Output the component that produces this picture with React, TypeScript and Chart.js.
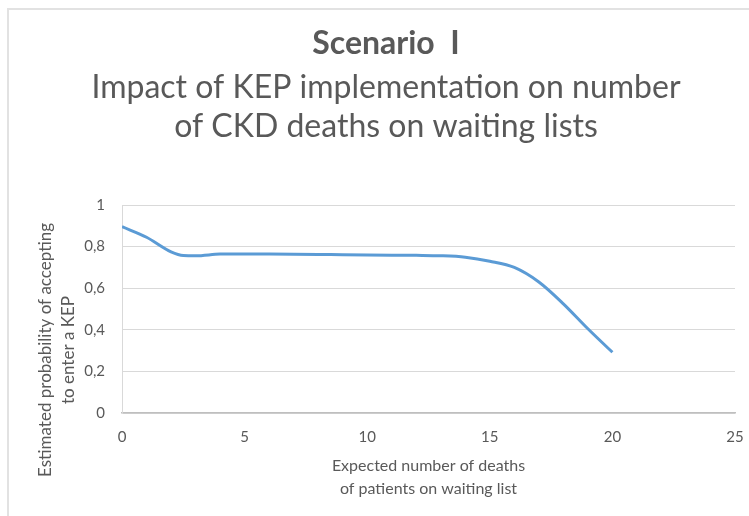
import React, { useEffect, useRef } from "react";
import { Chart, registerables } from "chart.js";

Chart.register(...registerables);

const xValues = [0, 1, 2, 2.5, 3, 4, 5, 6, 7, 8, 9, 10, 11, 12, 13, 14, 15, 16, 17, 18, 19, 20];
const yValues = [0.896, 0.845, 0.775, 0.757, 0.756, 0.764, 0.765, 0.764, 0.763, 0.762, 0.761, 0.76, 0.759, 0.758, 0.756, 0.749, 0.73, 0.7, 0.63, 0.525, 0.405, 0.292];
const titleText = "Scenario  I";
const subtitleLines = ["Impact of KEP implementation on number", "of CKD deaths on waiting lists"];
const yTitleLines = ["Estimated probability of accepting", "to enter a KEP"];
const xTitleLines = ["Expected number of deaths", "of patients on waiting list"];

const FONT = "Lato, 'Open Sans', sans-serif";
const GREY = "#595959";

const yTitlePlugin = {
  id: "yTitlePlugin",
  afterDraw(chart: any) {
    const ctx = chart.ctx;
    ctx.save();
    ctx.fillStyle = GREY;
    ctx.font = `17px ${FONT}`;
    ctx.textAlign = "center";
    ctx.textBaseline = "middle";
    const cy = 350;
    yTitleLines.forEach((t, i) => {
      ctx.save();
      ctx.translate(46 + i * 23, cy);
      ctx.rotate(-Math.PI / 2);
      ctx.fillText(t, 0, 0);
      ctx.restore();
    });
    ctx.restore();
  },
};

export default function App() {
  const ref = useRef<HTMLCanvasElement | null>(null);
  useEffect(() => {
    if (!ref.current) return;
    const chart = new Chart(ref.current, {
      type: "line",
      data: {
        datasets: [
          {
            data: xValues.map((x, i) => ({ x, y: yValues[i] })),
            borderColor: "#5B9BD5",
            borderWidth: 3,
            pointRadius: 0,
            cubicInterpolationMode: "monotone",
            fill: false,
          },
        ],
      },
      options: {
        animation: false,
        responsive: false,
        maintainAspectRatio: false,
        layout: { padding: { left: 37, right: 14, top: 0, bottom: 0 } },
        plugins: {
          legend: { display: false },
          tooltip: { enabled: false },
          title: {
            display: true,
            text: titleText,
            color: GREY,
            font: { family: FONT, size: 32, weight: "bold", lineHeight: 1.2 },
            padding: { top: 24.8, bottom: 0 },
          },
          subtitle: {
            display: true,
            text: subtitleLines,
            color: GREY,
            font: { family: FONT, size: 32, weight: "normal", lineHeight: "39px" },
            padding: { top: 5.3, bottom: 58.5 },
          },
        },
        scales: {
          x: {
            type: "linear",
            min: 0,
            max: 25,
            ticks: { stepSize: 5, color: GREY, font: { family: FONT, size: 15 }, padding: 15 },
            grid: { display: false, drawTicks: false },
            border: { display: true, color: "#bfbfbf", width: 1.5 },
            title: {
              display: true,
              text: xTitleLines,
              color: GREY,
              font: { family: FONT, size: 16, lineHeight: "23px" },
              padding: { top: 0, bottom: 15.5 },
            },
            afterFit(scale: any) {
              scale.height = 103;
              scale.paddingLeft = 0;
              scale.paddingRight = 0;
            },
          },
          y: {
            min: 0,
            max: 1,
            ticks: {
              stepSize: 0.2,
              color: GREY,
              font: { family: FONT, size: 15 },
              padding: 17,
              callback: (v: any) => {
                const n = Number(v);
                if (n === 0 || n === 1) return String(n);
                return n.toFixed(1).replace(".", ",");
              },
            },
            grid: { color: "#d9d9d9", lineWidth: 1, drawTicks: false },
            border: { display: true, color: "#d9d9d9", width: 1 },
            afterFit(scale: any) {
              scale.width = 122 - 37;
            },
          },
        },
      },
      plugins: [yTitlePlugin],
    } as any);
    return () => chart.destroy();
  }, []);

  return (
    <div style={{ position: "fixed", left: 0, top: 0, width: 749, height: 516, overflow: "hidden", background: "#fff" }}>
      <div
        style={{
          position: "absolute",
          left: 7,
          top: 8,
          width: 800,
          height: 600,
          borderLeft: "2px solid #e2e2e2",
          borderTop: "2px solid #e2e2e2",
        }}
      />
      <canvas ref={ref} width={749} height={516} style={{ position: "absolute", left: 0, top: 0, width: 749, height: 516 }} />
    </div>
  );
}
